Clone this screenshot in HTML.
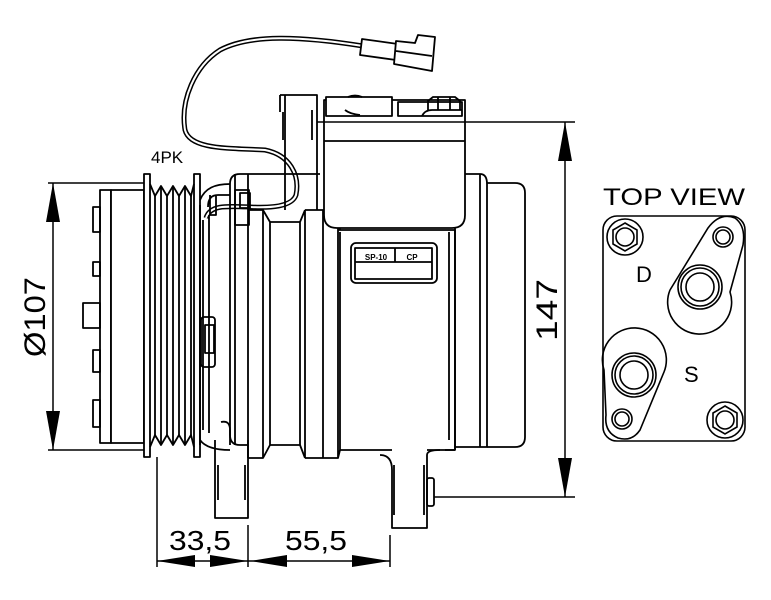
<!DOCTYPE html>
<html><head><meta charset="utf-8"><style>
html,body{margin:0;padding:0;background:#fff;width:771px;height:600px;overflow:hidden}
svg{display:block}
text{font-family:"Liberation Sans",sans-serif;fill:#000}
</style></head><body>
<svg width="771" height="600" viewBox="0 0 771 600" xmlns="http://www.w3.org/2000/svg">
<g fill="none" stroke="#000" stroke-width="1.8" stroke-linejoin="round">
<!-- wire (double line) -->
<g>
<path d="M363,46 C300,36 250,34 220,50 C195,66 180,100 185,130 C190,150 230,148 265,150 C290,155 300,175 296,195 C292,207 270,208 250,207 C225,206 210,205 206,218" stroke-width="5"/>
<path d="M363,46 C300,36 250,34 220,50 C195,66 180,100 185,130 C190,150 230,148 265,150 C290,155 300,175 296,195 C292,207 270,208 250,207 C225,206 210,205 206,218" stroke="#fff" stroke-width="2"/>
</g>
<!-- connector -->
<path d="M362,39 L398,44 L396,60 L360,55 Z" fill="#fff"/>
<path d="M396,41 L415,43 L418,35 L435,37 L432,71 L394,64 Z" fill="#fff"/>
<path d="M396,51 L432,56"/>

<!-- pulley front plate -->
<rect x="100" y="190" width="11" height="253" fill="#fff"/>
<rect x="111" y="190" width="33" height="253" fill="#fff"/>
<rect x="93" y="207" width="7" height="25"/>
<rect x="93" y="262" width="7" height="14"/>
<rect x="83" y="303" width="17" height="25"/>
<rect x="93" y="350" width="7" height="22"/>
<rect x="93" y="400" width="7" height="27"/>
<!-- pulley -->
<rect x="144" y="174" width="6" height="283" fill="#fff"/>
<rect x="194" y="174" width="6" height="283" fill="#fff"/>
<path d="M150,184 L155,196 L161,186 L167,196 L173,186 L179,196 L185,186 L191,196 L194,184"/>
<path d="M150,447 L155,435 L161,445 L167,435 L173,445 L179,435 L185,445 L191,435 L194,447"/>
<path d="M155,196 V435 M161,186 V445 M167,196 V435 M173,186 V445 M179,196 V435 M185,186 V445 M191,196 V435"/>
<!-- coil housing -->
<path d="M200,200 C205,188 215,184 230,184 M200,440 C205,447 215,450 230,450"/>
<path d="M209,215 V433 M203,220 V430 M200,205 V445"/>
<rect x="201" y="317" width="14" height="50" rx="3"/>
<rect x="205" y="325" width="9" height="28"/>
<path d="M208,207 q0,-12 10,-12 h12 M210,195 v20 h6 v-20"/>
<!-- front head -->
<path d="M230,184 Q230,174 240,174 H320"/>
<path d="M230,184 V435 Q230,445 240,445 H248"/>
<path d="M235,174 V445 M248,174 V458"/>
<rect x="235" y="190" width="14" height="35"/>
<rect x="240" y="193" width="10" height="15"/>
<path d="M248,210 H263 L270,222 V445 L263,458 H248"/>
<path d="M263,210 V458"/>
<path d="M270,222 H300 M270,445 H300 L305,458"/>
<path d="M300,222 L305,210 M305,210 V458 M300,222 V445"/>
<path d="M305,210 H338 L340,230 M305,458 H338 L340,450 M323,210 V458 M338,210 V458"/>
<!-- main body -->
<path d="M338,230 H455 V450 L445,450"/>
<path d="M340,232 V450 H392 M427,450 H455"/>
<path d="M449,232 V440 M455,174 H480 Q487,174 487,184 V447 H455"/>
<path d="M455,174 V450 M480,174 V447"/>
<path d="M487,183 H515 Q525,183 525,193 V437 Q525,447 515,447 H487"/>
<!-- head block -->
<path d="M324,100 H465 V215 Q465,228 452,228 H337 Q324,228 324,215 Z" fill="#fff"/>
<path d="M324,141 H465"/>
<rect x="326" y="97" width="66" height="19" fill="#fff"/>
<rect x="398" y="102" width="64" height="14" fill="#fff"/>
<path d="M428,110 V101 L433,97 H455 L460,101 V110 M438,97 V110 M450,97 V110 M422,116 Q425,110 432,110 H462"/>
<path d="M348,97 Q355,94 362,97 M345,110 Q350,114 360,115"/>
<!-- bracket -->
<path d="M280,95 H317 V210 M285,95 V210 M280,95 V112 M312,110 V140 M283,112 V140"/>
<!-- label -->
<rect x="351" y="243" width="86" height="40" rx="5" fill="#fff"/>
<rect x="355" y="248" width="77" height="31"/>
<path d="M355,262 H432 M395,248 V262"/>
<!-- bottom mounts -->
<path d="M221,422 Q230,420 230,430 V445 M215,440 V518 H248 V440 M218,465 V500 M245,465 V500"/>
<path d="M380,455 Q392,455 392,470 V528 H427 V455 Q427,450 440,450 M394,465 V515 M424,465 V515"/>
<rect x="427" y="478" width="7" height="28" rx="2"/>
<!-- dimension lines -->
<path d="M317,122 H575 M434,497 H575 M565,122 V497" stroke-width="1.5"/>
<path d="M48,183 H144 M48,450 H144 M53,183 V450" stroke-width="1.5"/>
<path d="M157,457 V567 M248,525 V567 M390,535 V567 M157,561 H390" stroke-width="1.5"/>
</g>
<!-- arrowheads -->
<g fill="#000">
<path d="M53,183 L46,222 L60,222 Z"/><path d="M53,450 L46,411 L60,411 Z"/>
<path d="M565,122 L558,161 L572,161 Z"/><path d="M565,497 L558,458 L572,458 Z"/>
<path d="M157,561 L195,555 L195,567 Z"/><path d="M248,561 L210,555 L210,567 Z"/>
<path d="M250,561 L287,555 L287,567 Z"/><path d="M390,561 L352,555 L352,567 Z"/>
</g>
<!-- top view -->
<g fill="none" stroke="#000" stroke-width="1.6">
<rect x="603" y="216" width="142" height="225" rx="14"/>
<circle cx="625" cy="237" r="18"/><polygon points="625,223 637,230 637,244 625,251 613,244 613,230"/><circle cx="625" cy="237" r="9"/>
<circle cx="725" cy="420" r="18"/><polygon points="725,406 737,413 737,427 725,434 713,427 713,413"/><circle cx="725" cy="420" r="9"/>
<circle cx="723" cy="237" r="10"/><circle cx="723" cy="237" r="7"/>
<circle cx="622" cy="419" r="10"/><circle cx="622" cy="419" r="7"/>
<path d="M670,290 L708,228 Q720,212 735,218 Q746,226 743,245 L730,292 A32,32 0 1 1 670,290"/>
<circle cx="700" cy="287" r="22"/><circle cx="700" cy="287" r="19"/><circle cx="700" cy="287" r="14"/>
<path d="M664,372 L640,430 Q632,442 618,438 Q604,432 606,415 L604,370 A32,32 0 1 1 664,372"/>
<circle cx="634" cy="375" r="22"/><circle cx="634" cy="375" r="19"/><circle cx="634" cy="375" r="14"/>
</g>
<!-- texts -->
<text x="151" y="163" font-size="17">4PK</text>
<text x="376" y="260" font-size="8" font-weight="bold" text-anchor="middle">SP-10</text>
<text x="412" y="260" font-size="8" font-weight="bold" text-anchor="middle">CP</text>
<text x="603" y="205" font-size="24" textLength="142" lengthAdjust="spacingAndGlyphs">TOP VIEW</text>
<text x="636" y="282" font-size="22" font-family="Liberation Serif">D</text>
<text x="684" y="382" font-size="22" font-family="Liberation Serif">S</text>
<text x="200" y="550" font-size="28" text-anchor="middle" textLength="62" lengthAdjust="spacingAndGlyphs">33,5</text>
<text x="316" y="550" font-size="28" text-anchor="middle" textLength="62" lengthAdjust="spacingAndGlyphs">55,5</text>
<text transform="translate(45,317) rotate(-90)" font-size="30" text-anchor="middle" textLength="80" lengthAdjust="spacingAndGlyphs">Ø107</text>
<text transform="translate(557,310) rotate(-90)" font-size="30" text-anchor="middle" textLength="62" lengthAdjust="spacingAndGlyphs">147</text>
</svg>
</body></html>
